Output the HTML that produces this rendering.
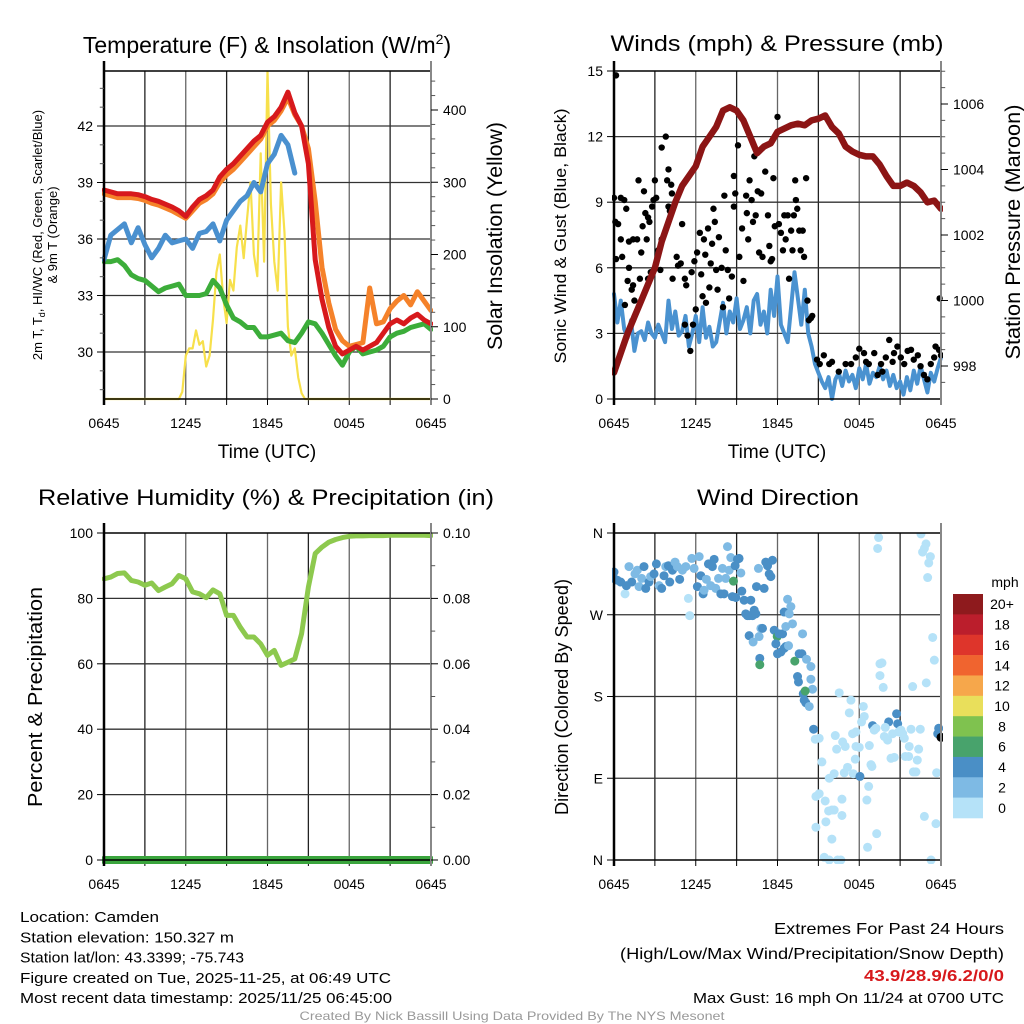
<!DOCTYPE html>
<html><head><meta charset="utf-8"><title>Camden Mesonet Meteogram</title>
<style>
html,body{margin:0;padding:0;background:#fff;}
svg{display:block;font-family:"Liberation Sans",Arial,sans-serif;}
</style></head>
<body>
<svg id="chart" xmlns="http://www.w3.org/2000/svg" width="1024" height="1024" viewBox="0 0 1024 1024">
<rect x="0" y="0" width="1024" height="1024" fill="#fff"/>
</svg>
<script>
// ---------- DATA ----------
const xTickLabels = ["0645","1245","1845","0045","0645"];
const xTickHours = [0,6,12,18,24];
// Panel 1 (half-hourly from 0645 UTC)
const tempRed = [38.6,38.5,38.4,38.4,38.4,38.35,38.25,38.1,38.0,37.85,37.7,37.5,37.2,37.7,38.1,38.3,38.6,39.3,39.7,40.0,40.4,40.8,41.2,41.5,42.2,42.5,43.0,43.8,42.7,42.0,40.0,34.9,32.8,31.3,30.3,29.9,30.1,30.3,30.1,30.3,30.5,31.0,31.5,31.7,31.5,31.8,32.0,31.7,31.5];
const temp9mOrange = [38.4,38.3,38.2,38.2,38.2,38.15,38.05,37.9,37.8,37.65,37.5,37.3,37.1,37.5,37.9,38.1,38.4,39.0,39.4,39.7,40.1,40.5,40.9,41.3,42.0,42.3,42.8,43.5,42.6,42.0,40.8,38.0,34.5,32.6,31.2,30.6,30.3,30.4,30.5,33.4,31.5,31.6,32.3,32.7,33.0,32.5,33.2,32.7,32.2];
const hiwcBlue = [34.9,36.2,36.5,36.8,35.8,36.6,35.7,35.0,35.5,36.2,35.8,35.9,36.0,35.5,36.3,36.4,36.8,35.9,37.0,37.5,38.0,38.3,39.0,38.5,40.0,40.5,41.5,41.0,39.5,null,null,null,null,null,null,null,null,null,null,null,null,null,null,null,null,null,null,null,null];
const dewGreen = [34.8,34.8,34.9,34.6,34.1,33.9,33.8,33.5,33.2,33.4,33.5,33.6,33.0,33.0,33.0,33.1,33.8,33.4,32.5,31.8,31.6,31.3,31.3,30.8,30.8,30.9,31.0,30.6,30.5,31.0,31.6,31.5,31.0,30.4,29.8,29.3,30.0,30.3,29.9,30.0,30.1,30.3,30.8,31.0,31.1,31.3,31.4,31.5,31.2];
// quarter-hourly solar
const solarYellow = [0,0,0,0,0,0,0,0,0,0,0,0,0,0,0,0,0,0,0,0,0,0,0,
 10,60,70,70,95,75,80,45,60,110,175,200,140,105,165,150,210,240,195,250,300,200,170,340,190,455,270,190,150,300,230,100,60,70,30,8,
 0,0,0,0,0,0,0,0,0,0,0,0,0,0,0,0,0,0,0,0,0,0,0,0,0,0,0,0,0,0,0,0,0,0,0,0,0,0];
const tempTicks = [30,33,36,39,42];
const solarTicks = [0,100,200,300,400];
// Panel 2
const sonicWind = [4.8,3.5,4.5,3.2,2.8,3.6,2.2,3.0,3.1,2.7,3.5,3.0,2.8,3.4,3.0,2.6,4.5,3.2,4.0,2.9,3.1,3.8,2.4,3.0,3.8,2.6,4.2,2.8,3.3,2.4,2.6,3.5,4.4,3.0,4.0,3.5,4.6,3.2,3.6,4.2,3.0,4.5,4.8,3.4,4.0,3.0,5.0,3.8,5.6,3.4,3.0,2.6,4.2,5.8,4.6,3.4,5.0,3.0,
 2.4,1.6,1.2,0.8,0.5,1.0,0.0,0.9,1.2,0.6,1.3,0.8,1.1,0.5,1.4,0.9,1.6,0.7,1.2,1.0,1.5,0.9,1.3,0.6,1.1,0.5,0.8,0.2,1.0,0.4,1.3,0.7,1.5,0.9,0.3,1.2,0.8,1.4,1.9];
const gustTimes = [0.15,0,0.5,0.75,0.1,0.3,0.15,0.5,0.6,0.9,1.1,1.0,1.3,1.4,0.8,1.5,1.1,1.4,1.7,1.8,1.9,2.0,2.1,2.2,2.3,2.4,2.5,2.6,2.5,2.7,2.8,2.9,3.0,3.1,3.25,3.4,3.5,3.5,3.8,3.9,4.0,4.0,4.1,4.2,4.25,4.3,4.6,4.7,4.9,5.0,5.2,5.2,5.3,5.4,5.6,5.7,5.8,5.9,6.0,6.1,6.3,6.4,6.5,6.6,6.7,6.75,6.9,7.0,7.1,7.2,7.3,7.4,7.5,7.6,7.7,7.9,8.0,8.1,8.2,8.35,8.45,8.65,8.8,8.8,8.9,9.1,9.2,9.4,9.5,9.7,9.75,9.85,9.95,10.1,10.2,10.4,10.3,10.55,10.65,10.8,10.9,11.1,11.3,11.4,11.5,11.6,11.7,11.8,12.0,12.1,12.25,12.4,12.5,12.6,12.75,12.85,13.0,13.1,13.2,13.3,13.35,13.45,13.6,13.7,13.85,14.1,13.95,14.2,14.45,14.55,14.3,
 14.9,15.1,15.4,15.8,16.0,16.5,17.0,17.4,17.75,18.0,18.35,18.5,18.7,19.1,19.35,19.6,19.7,19.95,20.2,20.45,20.55,20.8,21.05,21.3,21.55,21.8,22.0,22.3,22.5,22.75,23.0,23.25,23.5,23.6,23.85,23.9,24.0];
const gustValues = [14.8,9.2,9.2,9.1,8.1,8.0,6.4,7.3,6.5,8.7,6.0,5.4,5.0,5.2,4.3,4.5,7.2,7.3,7.3,10.0,5.5,6.7,7.9,9.5,8.5,7.3,8.3,8.1,5.5,5.8,8.8,9.1,10.0,9.2,6.8,5.9,11.5,7.3,12.0,10.0,10.5,8.8,8.6,9.8,9.4,5.5,6.5,6.1,6.2,8.0,5.5,3.4,5.2,2.9,2.2,5.8,3.4,6.3,4.1,6.7,7.6,5.7,4.7,7.3,6.6,4.4,7.8,5.1,6.2,7.1,8.7,8.1,5.9,5.0,7.4,6.0,4.2,9.3,6.8,5.9,4.6,5.6,10.2,8.8,9.4,11.6,6.5,7.8,5.4,9.3,8.5,7.3,10.0,9.1,8.1,8.4,11.1,9.5,6.7,9.4,6.5,10.4,8.4,7.0,6.3,6.4,10.1,7.9,12.9,8.0,7.6,6.8,8.4,7.3,8.4,5.5,7.7,6.8,8.4,10.0,9.1,8.7,7.7,6.8,7.7,10.1,6.5,4.5,3.7,3.8,3.6,
 1.8,1.6,2.0,1.6,1.7,1.25,1.6,1.6,1.9,2.3,2.1,1.7,1.6,2.1,1.1,1.6,1.25,1.9,2.7,1.7,2.1,2.4,1.9,1.6,2.2,2.25,1.8,2.0,1.5,1.1,0.9,1.6,1.9,2.4,2.25,4.6,2.0];
const pressureMaroon = [997.8,998.4,999.0,999.5,1000.0,1000.5,1001.0,1001.8,1002.4,1003.0,1003.5,1003.8,1004.1,1004.7,1005.0,1005.3,1005.8,1005.9,1005.8,1005.5,1005.0,1004.5,1004.7,1004.8,1005.15,1005.25,1005.35,1005.4,1005.35,1005.5,1005.55,1005.65,1005.3,1005.1,1004.7,1004.55,1004.45,1004.4,1004.4,1004.15,1003.8,1003.5,1003.5,1003.6,1003.5,1003.3,1003.0,1003.05,1002.8];
const windTicks = [0,3,6,9,12,15];
const pressureTicks = [998,1000,1002,1004,1006];
// Panel 3
const rhValues = [86,86.5,87.6,87.8,85.5,85,84,84.7,82.4,83.5,84.5,87,86,82,81.4,80.2,82.6,81.4,74.8,74.8,71.2,68.2,68.2,66.1,62.6,64.1,59.5,60.5,61.5,69.2,83.5,93.7,95.7,97.2,98,98.6,99,99.1,99.1,99.2,99.2,99.2,99.3,99.3,99.3,99.3,99.3,99.3,99.2];
const precipTimes = [0,24];
const precipValues = [0,0];
const rhTicks = [0,20,40,60,80,100];
const precipTicks = ["0.00","0.02","0.04","0.06","0.08","0.10"];
// Panel 4
const dirTimes = [0,0,0.24,0.49,0.81,0.91,1.10,1.30,1.54,1.71,1.84,2.03,2.20,2.33,2.57,2.69,2.94,3.11,3.31,3.50,3.67,3.80,3.99,4.09,4.29,4.48,4.65,4.82,5.02,5.27,5.46,5.56,5.71,5.88,6.12,6.25,6.37,6.54,6.61,6.78,6.93,7.10,7.22,7.35,7.47,7.67,7.84,7.96,8.08,8.20,8.33,8.45,8.57,8.69,8.77,8.89,8.94,9.06,9.18,9.31,9.38,9.55,9.67,9.80,9.92,10.04,10.16,10.29,10.41,10.46,10.60,10.78,9.92,10.21,10.65,10.90,11.02,11.14,11.27,11.39,11.51,11.63,10.70,10.70,11.76,11.98,12.12,11.88,12.00,12.25,12.37,12.49,12.61,12.81,12.49,12.61,12.74,12.86,12.98,13.10,13.27,13.59,13.79,13.84,13.47,13.54,14.13,14.45,14.45,14.57,13.89,14.03,13.96,14.08,14.33,14.65,14.77,15.06,15.26,14.82,15.06,15.50,15.80,16.16,15.75,15.99,16.16,15.55,14.82,15.99,15.43,15.80,16.41,16.65,16.73,16.73,16.53,17.39,17.27,18.30,18.37,18.17,17.51,17.76,16.24,16.34,16.78,16.97,16.90,17.14,17.56,17.71,17.76,18.00,18.05,18.69,18.56,18.74,18.86,18.93,18.98,19.10,19.23,19.28,18.61,19.35,19.42,19.52,19.67,19.52,19.76,20.16,19.91,19.84,20.08,20.33,20.45,20.57,20.74,20.82,20.89,21.06,21.19,21.31,21.38,21.63,21.80,21.67,21.97,22.16,22.26,22.36,22.48,22.53,22.65,22.78,22.90,23.10,23.22,23.02,22.78,22.92,21.92,23.39,23.51,23.63,23.68,23.27,23.76,23.83,24.00];
const dirDegrees = [317,310,308,306,293,302,323,306,315,319,301,310,323,299,306,312,315,326,302,299,313,323,324,306,319,328,323,309,319,323,288,269,332,321,301,334,313,293,297,309,326,302,323,331,299,310,293,321,293,310,345,319,333,290,307,324,289,331,332,316,296,286,271,269,269,286,269,275,271,301,321,255,247,240,246,255,299,328,324,315,312,330,222,215,253,246,249,238,227,229,249,233,235,236,273,257,287,271,279,260,219,227,227,249,202,196,221,213,199,188,183,186,176,173,169,144,133,134,108,70,73,65,90,95,54,55,55,42,36,23,3,0,0,0,49,67,184,176,162,169,158,152,139,141,137,122,130,125,96,102,95,111,125,124,92,81,66,126,105,103,148,143,145,29,14,343,355,216,217,203,190,152,146,136,132,112,139,113,161,150,141,143,139,134,114,114,144,125,97,97,110,122,144,359,339,343,348,327,334,311,48,195,191,245,220,40,96,0,139,145,135];
const dirSpeeds = [5,5,5,5,1,5,3,5,3,3,3,3,5,5,5,3,5,5,3,5,5,3,5,5,5,3,3,5,3,3,1,1,3,3,5,3,5,5,3,3,5,3,5,5,3,3,5,3,5,3,3,3,3,5,7,5,5,5,5,3,5,5,5,5,5,5,5,5,5,5,3,3,5,3,3,5,5,5,5,5,5,5,5,7,5,7,5,5,5,5,5,5,5,3,5,3,3,3,3,3,7,5,5,3,5,5,3,3,3,3,5,7,5,5,3,5,1,1,1,1,1,1,1,1,1,1,1,1,1,1,1,1,1,1,1,1,1,1,1,1,1,1,1,1,1,1,1,1,1,1,1,1,1,1,5,1,1,1,1,1,5,1,1,1,1,1,1,1,1,1,1,5,1,1,1,1,1,1,5,5,1,1,1,1,1,1,1,1,1,1,1,1,1,1,1,1,1,1,1,1,1,1,1,1,1,1,1,1,5,5];
const dirLabels = ["N","E","S","W","N"];
const dirTickDeg = [0,90,180,270,360];
const speedBinLabels = ["20+","18","16","14","12","10","8","6","4","2","0"];
const speedBinColors = ["#8e1a1d","#bb1e2c","#de352b","#f0642f","#f6a74b","#e9df5b","#7fc24f","#48a36c","#4a8fc6","#7ebae4","#b5e2f8"];

// ---------- HELPERS ----------
const NS = "http://www.w3.org/2000/svg";
const svg = document.getElementById("chart");
function mk(tag, attrs, parent){
  const e = document.createElementNS(NS, tag);
  for (const k in attrs) e.setAttribute(k, attrs[k]);
  (parent||svg).appendChild(e);
  return e;
}
function txt(str, x, y, size, anchor, parent, extra){
  const t = mk("text", Object.assign({x:x, y:y, "font-size":size, "text-anchor":anchor||"middle", fill:"#000"}, extra||{}), parent);
  t.textContent = str;
  return t;
}
const P1 = {x0:104, x1:431, y0:71, y1:399};
const P2 = {x0:614, x1:941, y0:71, y1:399};
const P3 = {x0:104, x1:431, y0:533, y1:860};
const P4 = {x0:614, x1:941, y0:533, y1:860};
function xs(P){ return t => P.x0 + t*(P.x1-P.x0)/24; }
const X1 = xs(P1), X2 = xs(P2);
const yTemp = v => 352 - (v-30)*226/12;
const ySolar = v => 399 - v*0.7225;
const yWind = v => 399 - v*(328/15);
const yPres = p => 366 - (p-998)*32.75;
const yRH = v => 860 - v*3.27;
const yPrecip = v => 860 - v*3270;
const yDir = d => 860 - d*327/360;

const defs = mk("defs", {});
["c1","c2","c3","c4"].forEach((id,i)=>{
  const P=[P1,P2,P3,P4][i];
  const cp = mk("clipPath", {id:id}, defs);
  mk("rect", {x:P.x0-2, y:P.y0, width:P.x1-P.x0+4, height:P.y1-P.y0+4}, cp);
});

function frame(P, name, hGridYs, xf){
  const g = mk("g", {});
  
  
  for (let h=3; h<24; h+=3){
    const ln = mk("line", {x1:xf(h), x2:xf(h), y1:P.y0, y2:P.y1, stroke:(h%6===0?"#666":"#222"), "stroke-width":1.3}, g);
    
    
  }
  hGridYs.forEach(y=>{
    const ln = mk("line", {x1:P.x0, x2:P.x1, y1:y, y2:y, stroke:"#333", "stroke-width":1.3}, g);
    
    
  });
  for (let h=0; h<=24; h+=3){
    const tk = mk("line", {x1:xf(h), x2:xf(h), y1:P.y1, y2:P.y1+6, stroke:"#000", "stroke-width":1}, g);
    
    
  }
  xTickHours.forEach((h,i)=>{
    const t = txt(xTickLabels[i], xf(h), P.y1+29, 14, "middle", g);
    
    
  });
  return g;
}
function border(P, name){
  const r = mk("rect", {x:P.x0, y:P.y0, width:P.x1-P.x0, height:P.y1-P.y0, fill:"none", stroke:"#000", "stroke-width":1.5});
  
  
  const l = mk("line", {x1:P.x0, x2:P.x0, y1:P.y0-10, y2:P.y1+6, stroke:"#000","stroke-width":2.5});
  
  
  const r2 = mk("line", {x1:P.x1, x2:P.x1, y1:P.y0-10, y2:P.y1+6, stroke:"#888","stroke-width":2});
  
  
}
function yTicks(P, vals, yf, labels, side, name, minorVals){
  const g = mk("g", {});
  
  
  const x = side==="left" ? P.x0 : P.x1;
  const d = side==="left" ? -7 : 7;
  (minorVals||[]).forEach(v=>{
    const tk = mk("line", {x1:x, x2:x+d*0.6, y1:yf(v), y2:yf(v), stroke:"#555", "stroke-width":1}, g);
    
    
  });
  vals.forEach((v,i)=>{
    const tk = mk("line", {x1:x, x2:x+d, y1:yf(v), y2:yf(v), stroke:"#000", "stroke-width":1}, g);
    
    
    const t = txt(labels[i], side==="left"? x-11 : x+12, yf(v)+5, 14, side==="left"?"end":"start", g);
    
    
  });
}
function pathFrom(times, vals, xf, yf){
  let d = "", pen = false;
  for (let i=0;i<vals.length;i++){
    if (vals[i]===null){ pen=false; continue; }
    d += (pen?"L":"M") + xf(times[i]).toFixed(1) + "," + yf(vals[i]).toFixed(1);
    pen = true;
  }
  return d;
}
function seriesTimes(arr){ const step = 24/(arr.length-1); return arr.map((_,i)=>i*step); }
function line(arr, xf, yf, color, w, clipId, name, times){
  const p = mk("path", {d:pathFrom(times||seriesTimes(arr), arr, xf, yf), fill:"none", stroke:color, "stroke-width":w, "stroke-linejoin":"round", "stroke-linecap":"round", "clip-path":"url(#"+clipId+")"});
  
  
  return p;
}

// ---------- PANEL 1 ----------
frame(P1, "temperature-panel", tempTicks.map(yTemp), X1);
line(solarYellow, X1, ySolar, "#f7e04b", 2.2, "c1", "solar-insolation-line");
line(dewGreen, X1, yTemp, "#3cad3a", 5, "c1", "dewpoint-line");
line(hiwcBlue, X1, yTemp, "#4a90cf", 5, "c1", "heat-index-windchill-line");
line(temp9mOrange, X1, yTemp, "#f5822a", 5, "c1", "temperature-9m-line");
line(tempRed, X1, yTemp, "#d7191c", 5, "c1", "temperature-2m-line");
border(P1, "temperature-panel");
const tempMinor=[]; for(let v=28;v<=44;v++) if(v%3!==0) tempMinor.push(v);
yTicks(P1, tempTicks, yTemp, tempTicks.map(String), "left", "temperature-y-axis", tempMinor);
const solMinor=[]; for(let v=20;v<=440;v+=20) if(v%100!==0) solMinor.push(v);
yTicks(P1, solarTicks, ySolar, solarTicks.map(String), "right", "solar-y-axis", solMinor);

// ---------- PANEL 2 ----------
frame(P2, "winds-panel", [3,6,9,12].map(yWind), X2);
line(sonicWind, X2, yWind, "#4a92d0", 4, "c2", "sonic-wind-line");
const gg = mk("g", {"clip-path":"url(#c2)"});


gustTimes.forEach((t,i)=>{
  const c = mk("circle", {cx:X2(t), cy:yWind(gustValues[i]), r:3.2, fill:"#000"}, gg);
  
  
});
line(pressureMaroon, X2, yPres, "#8c1515", 6.5, "c2", "station-pressure-line");
border(P2, "winds-panel");
yTicks(P2, windTicks, yWind, windTicks.map(String), "left", "wind-y-axis", []);
const presMinor=[]; for(let p=997.5;p<=1007;p+=0.5) if(p%2!==0) presMinor.push(p);
yTicks(P2, pressureTicks, yPres, pressureTicks.map(String), "right", "pressure-y-axis", presMinor);

// ---------- PANEL 3 ----------
frame(P3, "humidity-panel", [20,40,60,80].map(yRH), X1);
line(rhValues, X1, yRH, "#8dc94e", 5, "c3", "relative-humidity-line");
line(precipValues, X1, yPrecip, "#3aa53d", 8, "c3", "precipitation-line", precipTimes);
border(P3, "humidity-panel");
yTicks(P3, rhTicks, yRH, rhTicks.map(String), "left", "humidity-y-axis", []);
const prMinor=[0.01,0.03,0.05,0.07,0.09];
yTicks(P3, precipTicks.map(Number), yPrecip, precipTicks, "right", "precipitation-y-axis", prMinor);

// ---------- PANEL 4 ----------
frame(P4, "direction-panel", [90,180,270].map(yDir), X2);
function binColor(s){ const idx = Math.min(10, Math.floor(s/2)); return speedBinColors[10-idx]; }
const dg = mk("g", {"clip-path":"url(#c4)"});


dirTimes.forEach((t,i)=>{
  const c = mk("circle", {cx:X2(t), cy:yDir(dirDegrees[i]), r:4.5, fill:binColor(dirSpeeds[i])}, dg);
  
  
});
border(P4, "direction-panel");
yTicks(P4, dirTickDeg, yDir, dirLabels, "left", "direction-y-axis", []);
const cb = mk("g", {});


const cbTop = 594, cbH = 224/11;
speedBinLabels.forEach((lab,i)=>{
  const r = mk("rect", {x:953, y:cbTop+i*cbH, width:30, height:cbH+0.3, fill:speedBinColors[i]}, cb);
  
  
  const t = txt(lab, 1002, cbTop+i*cbH+cbH/2+5, 14, "middle", cb);
  
  
});
const mph = txt("mph", 1005, 587, 14, "middle", cb);



// ---------- TITLES ----------
function T(str, x, y, size, name, opts){
  const o = opts||{};
  const attrs = {};
  if (o.len){ attrs.textLength = o.len; attrs.lengthAdjust = "spacingAndGlyphs"; }
  if (o.rot){ attrs.transform = "rotate(-90 "+x+" "+y+")"; }
  if (o.fill) attrs.fill = o.fill;
  if (o.weight) attrs["font-weight"] = o.weight;
  const t = txt(str, x, y, size, o.anchor||"middle", svg, attrs);
  
  
  return t;
}
const t1 = T("", 267, 53, 23, "temperature-title", {});
t1.innerHTML = 'Temperature (F) &amp; Insolation (W/m<tspan dy="-9" font-size="14">2</tspan><tspan dy="9">)</tspan>';
T("Winds (mph) & Pressure (mb)", 777, 51, 22, "winds-title", {len:333});
T("Relative Humidity (%) & Precipitation (in)", 266, 505, 22, "humidity-title", {len:456});
T("Wind Direction", 778, 505, 22, "direction-title", {len:162});
T("Time (UTC)", 267, 458, 19, "temperature-x-title", {});
T("Time (UTC)", 777, 458, 19, "winds-x-title", {});
const yl = T("", 42, 235, 13, "temperature-y-title", {rot:true});
yl.innerHTML = '2m T, T<tspan dy="3" font-size="9">d</tspan><tspan dy="-3">, HI/WC (Red, Green, Scarlet/Blue)</tspan>';
T("& 9m T (Orange)", 57, 235, 13, "temperature-y-title-line2", {rot:true});
T("Solar Insolation (Yellow)", 502, 236, 21, "solar-y-title", {rot:true, len:228});
T("Sonic Wind & Gust (Blue, Black)", 566, 236, 17, "wind-y-title", {rot:true, len:255});
T("Station Pressure (Maroon)", 1020, 232, 21, "pressure-y-title", {rot:true, len:255});
T("Percent & Precipitation", 42, 697, 20, "humidity-y-title", {rot:true, len:220});
T("Direction (Colored By Speed)", 568, 697, 18, "direction-y-title", {rot:true, len:236});

// ---------- FOOTER ----------
const footL = ["Location: Camden","Station elevation: 150.327 m","Station lat/lon: 43.3399; -75.743","Figure created on Tue, 2025-11-25, at 06:49 UTC","Most recent data timestamp: 2025/11/25 06:45:00"];
const footLW = [139,214,224,371,372];
footL.forEach((s,i)=>{ T(s, 20, 922+i*20.3, 15, "footer-info-line", {anchor:"start", len:footLW[i]}); });
T("Extremes For Past 24 Hours", 1004, 934, 16, "extremes-title", {anchor:"end", len:230});
T("(High/Low/Max Wind/Precipitation/Snow Depth)", 1004, 959, 16, "extremes-subtitle", {anchor:"end", len:384});
T("43.9/28.9/6.2/0/0", 1004, 981, 16, "extremes-values", {anchor:"end", len:140, fill:"#d7191c", weight:"bold"});
T("Max Gust: 16 mph On 11/24 at 0700 UTC", 1004, 1003, 15, "max-gust", {anchor:"end", len:311});
T("Created By Nick Bassill Using Data Provided By The NYS Mesonet", 512, 1020, 12, "credits", {len:425, fill:"#999"});
</script>
</body></html>
